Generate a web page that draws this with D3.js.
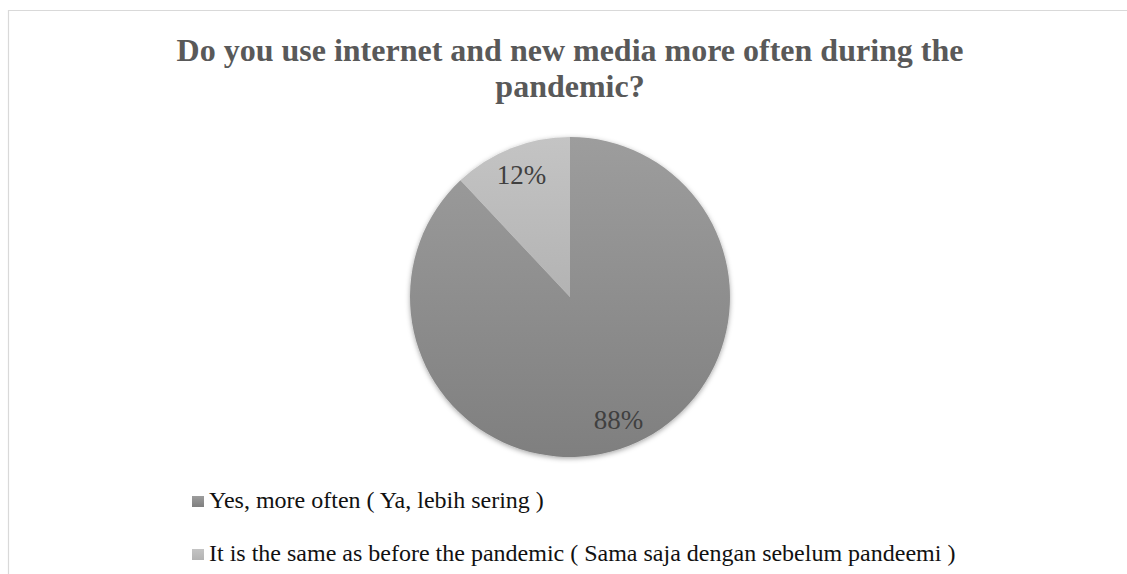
<!DOCTYPE html>
<html>
<head>
<meta charset="utf-8">
<script src="https://cdn.jsdelivr.net/npm/d3@7"></script>
<style>
  html, body { margin: 0; padding: 0; background: #fff; }
  svg { display: block; }
</style>
</head>
<body>
<svg id="chart" width="1127" height="574"></svg>
<script>
// Survey answers and their shares (percent)
const categories = [
  "Yes, more often ( Ya, lebih sering )",
  "It is the same as before the pandemic ( Sama saja dengan sebelum pandeemi )"
];
const values = [88, 12];
const labels = ["88%", "12%"];
const titleLines = [
  "Do you use internet and new media more often during the",
  "pandemic?"
];
// gradient stops (top, bottom) per slice
const sliceColors = [["#9d9d9d", "#7f7f7f"], ["#c4c4c4", "#b3b3b3"]];

const W = 1127, H = 574;
const svg = d3.select("#chart");
const serif = "Liberation Serif";

// chart area frame (top and left edges)
svg.append("line").attr("x1", 8).attr("y1", 10.5).attr("x2", W).attr("y2", 10.5)
  .attr("stroke", "#d9d9d9").attr("stroke-width", 1.2);
svg.append("line").attr("x1", 8.5).attr("y1", 10).attr("x2", 8.5).attr("y2", H)
  .attr("stroke", "#d9d9d9").attr("stroke-width", 1.2);

// title
const title = svg.append("text")
  .attr("text-anchor", "middle")
  .style("font-family", serif)
  .attr("font-weight", "bold")
  .attr("font-size", 32)
  .attr("fill", "#595959");
titleLines.forEach((t, i) => {
  title.append("tspan").attr("x", 570).attr("y", 61 + i * 36).text(t);
});

const defs = svg.append("defs");
sliceColors.forEach((c, i) => {
  const g = defs.append("linearGradient").attr("id", "grad" + i)
    .attr("x1", 0).attr("y1", 0).attr("x2", 0).attr("y2", 1);
  g.append("stop").attr("offset", "0%").attr("stop-color", c[0]);
  g.append("stop").attr("offset", "100%").attr("stop-color", c[1]);
});
const shadow = defs.append("filter").attr("id", "shadow")
  .attr("x", "-10%").attr("y", "-10%").attr("width", "120%").attr("height", "120%");
shadow.append("feDropShadow").attr("dx", 0).attr("dy", 1.5)
  .attr("stdDeviation", 2.5).attr("flood-color", "#000").attr("flood-opacity", 0.35);

// pie
const cx = 570, cy = 297, R = 160;
const pie = d3.pie().sort(null).value(d => d);
const arcs = pie(values);
const arc = d3.arc().innerRadius(0).outerRadius(R);
const labelArc = d3.arc().innerRadius(264).outerRadius(0); // centroid at radius 132

const g = svg.append("g").attr("transform", `translate(${cx},${cy})`);
g.append("g").attr("filter", "url(#shadow)")
  .selectAll("path").data(arcs).join("path")
  .attr("d", arc)
  .attr("fill", (d, i) => `url(#grad${i})`);

g.selectAll("text.lbl").data(arcs).join("text")
  .attr("class", "lbl")
  .attr("transform", d => `translate(${labelArc.centroid(d)})`)
  .attr("text-anchor", "middle")
  .attr("dy", "0.35em")
  .style("font-family", serif)
  .attr("font-size", 27)
  .attr("fill", "#404040")
  .text((d, i) => labels[i]);

// legend
const legend = svg.append("g");
categories.forEach((c, i) => {
  const y = 508 + i * 53;
  legend.append("rect").attr("x", 192).attr("y", y - 12).attr("width", 12).attr("height", 11)
    .attr("fill", `url(#grad${i})`);
  legend.append("text").attr("x", 209).attr("y", y)
    .style("font-family", serif).attr("font-size", 24).attr("fill", "#111")
    .text(c);
});
</script>
</body>
</html>
